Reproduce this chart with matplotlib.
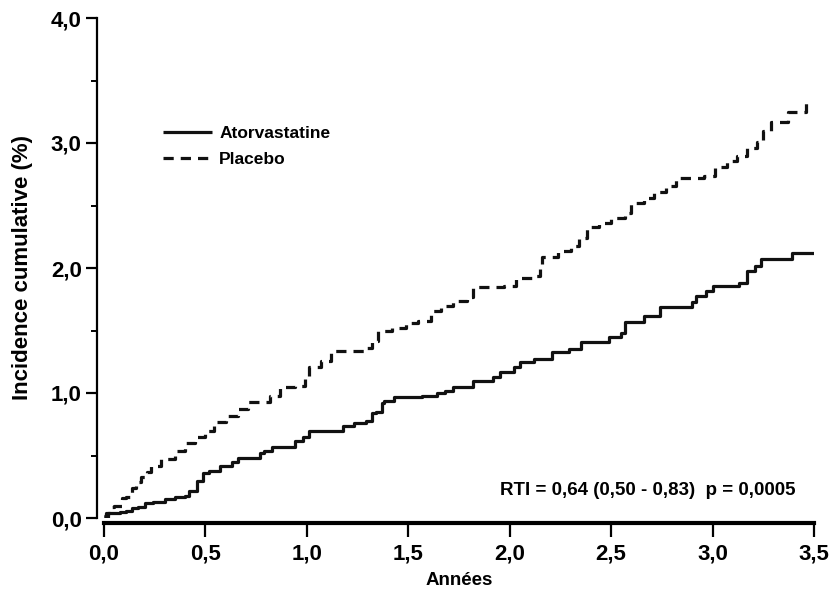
import matplotlib
matplotlib.use("Agg")
import matplotlib.pyplot as plt
from matplotlib.ticker import MultipleLocator, FuncFormatter

plt.rcParams['font.family'] = ['Liberation Sans', 'DejaVu Sans']

# Atorvastatine (solid) - step times (years) and cumulative incidence (%)
atorva_t = [0.00, 0.02, 0.08, 0.11, 0.14, 0.17, 0.20, 0.24, 0.30, 0.35, 0.40, 0.42,
            0.46, 0.49, 0.52, 0.57, 0.63, 0.66, 0.77, 0.79, 0.83, 0.94, 0.98, 1.01,
            1.18, 1.23, 1.29, 1.32, 1.34, 1.37, 1.38, 1.43, 1.57, 1.64, 1.68, 1.72,
            1.82, 1.92, 1.95, 2.02, 2.05, 2.12, 2.21, 2.29, 2.35, 2.49, 2.55, 2.57,
            2.66, 2.74, 2.90, 2.92, 2.97, 3.00, 3.13, 3.17, 3.21, 3.24, 3.39, 3.50]
atorva_y = [0.01, 0.04, 0.05, 0.06, 0.08, 0.09, 0.12, 0.13, 0.15, 0.17, 0.18, 0.22,
            0.30, 0.36, 0.38, 0.42, 0.45, 0.48, 0.52, 0.54, 0.57, 0.62, 0.65, 0.70,
            0.74, 0.76, 0.78, 0.84, 0.85, 0.92, 0.94, 0.97, 0.98, 1.00, 1.02, 1.05,
            1.10, 1.13, 1.17, 1.21, 1.25, 1.27, 1.33, 1.35, 1.41, 1.45, 1.48, 1.57,
            1.62, 1.69, 1.73, 1.78, 1.82, 1.86, 1.88, 1.98, 2.02, 2.07, 2.12, 2.12]

# Placebo (dashed)
placebo_t = [0.00, 0.01, 0.03, 0.05, 0.09, 0.11, 0.13, 0.14, 0.16, 0.18, 0.21, 0.23,
             0.28, 0.35, 0.40, 0.45, 0.50, 0.54, 0.60, 0.66, 0.71, 0.82, 0.87, 0.94,
             0.99, 1.01, 1.07, 1.12, 1.28, 1.32, 1.35, 1.42, 1.49, 1.55, 1.61, 1.66,
             1.72, 1.79, 1.82, 1.97, 2.03, 2.11, 2.15, 2.16, 2.24, 2.30, 2.34, 2.38,
             2.44, 2.50, 2.57, 2.60, 2.66, 2.71, 2.77, 2.82, 2.96, 3.01, 3.07, 3.12,
             3.17, 3.22, 3.25, 3.29, 3.37, 3.46, 3.47]
placebo_y = [0.02, 0.04, 0.09, 0.10, 0.16, 0.17, 0.20, 0.24, 0.29, 0.33, 0.37, 0.42,
             0.47, 0.54, 0.60, 0.65, 0.70, 0.77, 0.82, 0.87, 0.93, 0.98, 1.05, 1.06,
             1.12, 1.21, 1.26, 1.34, 1.36, 1.42, 1.50, 1.52, 1.56, 1.58, 1.66, 1.70,
             1.74, 1.77, 1.85, 1.86, 1.92, 1.94, 2.02, 2.09, 2.14, 2.18, 2.24, 2.33,
             2.36, 2.40, 2.44, 2.52, 2.56, 2.61, 2.66, 2.72, 2.74, 2.81, 2.86, 2.90,
             2.96, 3.01, 3.10, 3.17, 3.25, 3.32, 3.32]

labels = ["Atorvastatine", "Placebo"]
annot = "RTI = 0,64 (0,50 - 0,83)  p = 0,0005"

fig = plt.figure(figsize=(8.38, 5.97), dpi=100)
ax = fig.add_axes([104/838, 1 - 518/597, 710/838, 500/597])

ax.plot(atorva_t, atorva_y, drawstyle='steps-post', color='#111111', lw=2.3,
        label=labels[0], solid_capstyle='butt')
ax.plot(placebo_t, placebo_y, drawstyle='steps-post', color='#111111', lw=2.3,
        linestyle=(0, (3.2, 2.2)), label=labels[1])

ax.set_xlim(0, 3.5)
ax.set_ylim(0, 4.0)

for s in ['top', 'right']:
    ax.spines[s].set_visible(False)
ax.spines['left'].set_position(('outward', 5))
ax.spines['bottom'].set_position(('outward', 3.6))
ax.spines['left'].set_bounds(0, 4)
ax.spines['bottom'].set_bounds(0, 3.5)
ax.spines['left'].set_linewidth(1.6)
ax.spines['bottom'].set_linewidth(3.0)

fmt = FuncFormatter(lambda v, p: f"{v:.1f}".replace('.', ','))
ax.xaxis.set_major_locator(MultipleLocator(0.5))
ax.yaxis.set_major_locator(MultipleLocator(1.0))
ax.yaxis.set_minor_locator(MultipleLocator(0.5))
ax.xaxis.set_major_formatter(fmt)
ax.yaxis.set_major_formatter(fmt)
ax.tick_params(axis='x', direction='out', length=10, width=1.6, pad=5)
ax.tick_params(axis='y', which='major', direction='out', length=8, width=1.6, pad=3)
ax.tick_params(axis='y', which='minor', direction='out', length=4, width=1.4)
for lab in ax.get_xticklabels() + ax.get_yticklabels():
    lab.set_fontsize(16)
    lab.set_fontweight('bold')

ax.set_xlabel("Années", fontsize=13.5, fontweight='bold', labelpad=5)
ax.set_ylabel("Incidence cumulative (%)", fontsize=16, fontweight='bold', labelpad=13)

ax.legend(loc='upper left', bbox_to_anchor=(0.083, 0.785), frameon=False,
          prop={'weight': 'bold', 'size': 12.5},
          handlelength=2.8, handletextpad=0.45, labelspacing=0.65,
          borderpad=0, borderaxespad=0)

ax.text(1.95, 0.22, annot, fontsize=13.5, fontweight='bold', ha='left', va='center')

fig.savefig("out.png", dpi=100)
